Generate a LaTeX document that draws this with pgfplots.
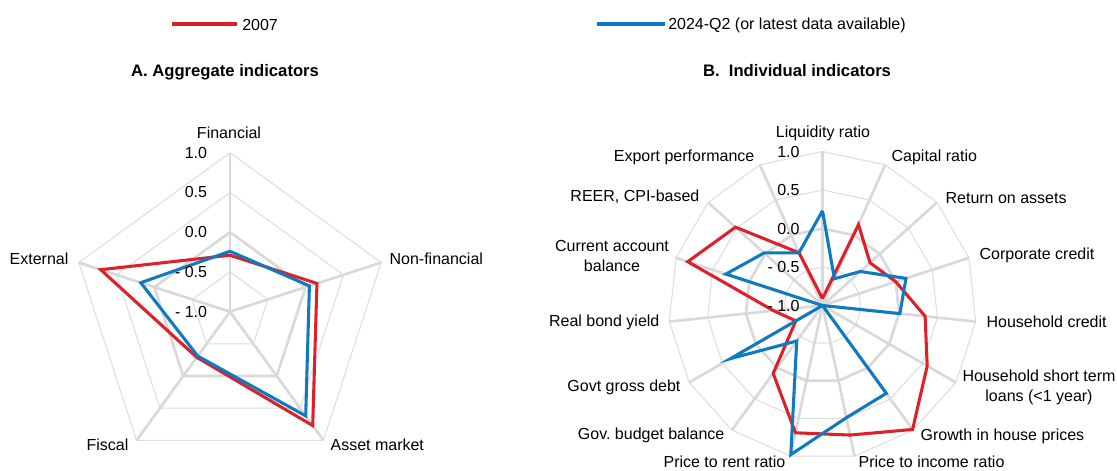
\documentclass[border=0pt]{standalone}
\usepackage{pgfplots}
\usepackage{pgfplotstable}
\pgfplotsset{compat=1.18}
\usepgfplotslibrary{polar}
\usepackage{fontspec}
\setmainfont{Liberation Sans}
\definecolor{cred}{RGB}{222,32,42}
\definecolor{cblue}{RGB}{15,122,192}
\definecolor{gthick}{RGB}{217,217,217}
\definecolor{gthin}{RGB}{222,222,222}

% Panel A: angle (deg), 2007, 2024-Q2
\pgfplotstableread{
ang  red    blue
90   -0.29  -0.24
18    0.15   0.05
-54   0.77   0.62
-126 -0.29  -0.31
-198  0.71   0.18
-270 -0.29  -0.24
}\tabA

% Panel B
\pgfplotstableread{
ang   red    blue
90    -0.91   0.23
66     0.15  -0.62
42    -0.17  -0.34
18     0.00   0.14
-6     0.34   0.01
-30    0.57  -1.00
-54    0.99   0.41
-78    0.72   0.49
-102   0.69   0.98
-126   0.09  -0.43
-150  -0.60   0.38
-174  -0.36  -1.00
-198   0.84   0.32
-222   0.52   0.02
-246  -0.25  -0.25
-270  -0.91   0.23
}\tabB

\pgfplotsset{
  radar/.style={
    scale only axis, hide axis, clip=false,
    xmin=0, xmax=360, ymin=0, ymax=2,
    anchor=center,
  },
  thickgrid/.style={draw=gthick, line width=2pt, forget plot},
  thingrid/.style={draw=gthin, line width=0.8pt, forget plot},
  ser/.style={line width=2.3pt, mark=none, line join=miter},
}

\begin{document}
\frenchspacing
\begin{tikzpicture}[x=0.75pt,y=0.75pt]
\fontsize{12}{14.4}\selectfont
\useasboundingbox (0,0) rectangle (1117,471);

% legend
\draw[cred, line width=2.3pt] (172,447) -- (237,447);
\node[anchor=west, inner sep=0pt] at (242,446) {2007};
\draw[cblue, line width=2.3pt] (597,447) -- (665,447);
\node[anchor=west, inner sep=0pt] at (668,446) {2024-Q2 (or latest data available)};

% titles
\node[font=\fontsize{12.5}{15}\selectfont\bfseries] at (225,398.5) {A. Aggregate indicators};
\node[font=\fontsize{12.5}{15}\selectfont\bfseries] at (797,400) {B.\ \ Individual indicators};

% ---------------- Panel A ----------------
\begin{polaraxis}[radar, at={(172.5pt,119.475pt)}, width=238.5pt, height=238.5pt]
  \addplot[thingrid] coordinates {(90,0.5)(18,0.5)(-54,0.5)(-126,0.5)(-198,0.5)(-270,0.5)};
  \addplot[thingrid] coordinates {(90,1.5)(18,1.5)(-54,1.5)(-126,1.5)(-198,1.5)(-270,1.5)};
  \addplot[thingrid] coordinates {(90,2)(18,2)(-54,2)(-126,2)(-198,2)(-270,2)};
  \addplot[thickgrid] coordinates {(90,1)(18,1)(-54,1)(-126,1)(-198,1)(-270,1)};
  \addplot[thickgrid] coordinates {(90,0)(90,2)};
  \addplot[thickgrid] coordinates {(18,0)(18,2)};
  \addplot[thickgrid] coordinates {(-54,0)(-54,2)};
  \addplot[thickgrid] coordinates {(-126,0)(-126,2)};
  \addplot[thickgrid] coordinates {(-198,0)(-198,2)};
  \addplot[ser, cred]  table[x=ang, y expr=\thisrow{red}+1]  {\tabA};
  \addplot[ser, cblue] table[x=ang, y expr=\thisrow{blue}+1] {\tabA};
  \node[anchor=east, xshift=-13pt] at (axis cs:90,2) {1.0};
  \node[anchor=east, xshift=-13pt] at (axis cs:90,1.5) {0.5};
  \node[anchor=east, xshift=-13pt] at (axis cs:90,1) {0.0};
  \node[anchor=east, xshift=-13pt] at (axis cs:90,0.5) {- 0.5};
  \node[anchor=east, xshift=-13pt] at (axis cs:90,0) {- 1.0};
\end{polaraxis}

\node at (229,338) {Financial};
\node[anchor=west] at (384,212) {Non-financial};
\node[anchor=east] at (74,212) {External};
\node[anchor=east] at (134,26) {Fiscal};
\node[anchor=west] at (325,26) {Asset market};

% ---------------- Panel B ----------------
\begin{polaraxis}[radar, at={(616.875pt,124.125pt)}, width=231pt, height=231pt]
  \addplot[thingrid] coordinates {(90,0.5)(66,0.5)(42,0.5)(18,0.5)(-6,0.5)(-30,0.5)(-54,0.5)(-78,0.5)(-102,0.5)(-126,0.5)(-150,0.5)(-174,0.5)(-198,0.5)(-222,0.5)(-246,0.5)(-270,0.5)};
  \addplot[thingrid] coordinates {(90,1.5)(66,1.5)(42,1.5)(18,1.5)(-6,1.5)(-30,1.5)(-54,1.5)(-78,1.5)(-102,1.5)(-126,1.5)(-150,1.5)(-174,1.5)(-198,1.5)(-222,1.5)(-246,1.5)(-270,1.5)};
  \addplot[thingrid] coordinates {(90,2)(66,2)(42,2)(18,2)(-6,2)(-30,2)(-54,2)(-78,2)(-102,2)(-126,2)(-150,2)(-174,2)(-198,2)(-222,2)(-246,2)(-270,2)};
  \addplot[thickgrid] coordinates {(90,1)(66,1)(42,1)(18,1)(-6,1)(-30,1)(-54,1)(-78,1)(-102,1)(-126,1)(-150,1)(-174,1)(-198,1)(-222,1)(-246,1)(-270,1)};
  \addplot[thickgrid] coordinates {(90,0)(90,2)};
  \addplot[thickgrid] coordinates {(66,0)(66,2)};
  \addplot[thickgrid] coordinates {(42,0)(42,2)};
  \addplot[thickgrid] coordinates {(18,0)(18,2)};
  \addplot[thickgrid] coordinates {(-6,0)(-6,2)};
  \addplot[thickgrid] coordinates {(-30,0)(-30,2)};
  \addplot[thickgrid] coordinates {(-54,0)(-54,2)};
  \addplot[thickgrid] coordinates {(-78,0)(-78,2)};
  \addplot[thickgrid] coordinates {(-102,0)(-102,2)};
  \addplot[thickgrid] coordinates {(-126,0)(-126,2)};
  \addplot[thickgrid] coordinates {(-150,0)(-150,2)};
  \addplot[thickgrid] coordinates {(-174,0)(-174,2)};
  \addplot[thickgrid] coordinates {(-198,0)(-198,2)};
  \addplot[thickgrid] coordinates {(-222,0)(-222,2)};
  \addplot[thickgrid] coordinates {(-246,0)(-246,2)};
  \addplot[ser, cred]  table[x=ang, y expr=\thisrow{red}+1]  {\tabB};
  \addplot[ser, cblue] table[x=ang, y expr=\thisrow{blue}+1] {\tabB};
  \node[anchor=east, xshift=-13pt] at (axis cs:90,2) {1.0};
  \node[anchor=east, xshift=-13pt] at (axis cs:90,1.5) {0.5};
  \node[anchor=east, xshift=-13pt] at (axis cs:90,1) {0.0};
  \node[anchor=east, xshift=-13pt] at (axis cs:90,0.5) {- 0.5};
  \node[anchor=east, xshift=-13pt] at (axis cs:90,0) {- 1.0};
\end{polaraxis}

\node at (823,338) {Liquidity ratio};
\node[anchor=west] at (886,314) {Capital ratio};
\node[anchor=west] at (940,273) {Return on assets};
\node[anchor=west] at (974,216) {Corporate credit};
\node[anchor=west] at (981,149) {Household credit};
\node[align=center, font=\fontsize{12}{15}\selectfont] at (1039,84) {Household short term\\loans (<1 year)};
\node[anchor=west] at (915,35) {Growth in house prices};
\node[anchor=west] at (853,9) {Price to income ratio};
\node[anchor=east] at (791,9) {Price to rent ratio};
\node[anchor=east] at (730,36) {Gov. budget balance};
\node[anchor=east] at (686,84) {Govt gross debt};
\node[anchor=east] at (665,149) {Real bond yield};
\node[align=center, font=\fontsize{12}{15}\selectfont] at (612,215.5) {Current account\\balance};
\node[anchor=east] at (705,274) {REER, CPI-based};
\node[anchor=east] at (760,314) {Export performance};
\end{tikzpicture}
\end{document}
